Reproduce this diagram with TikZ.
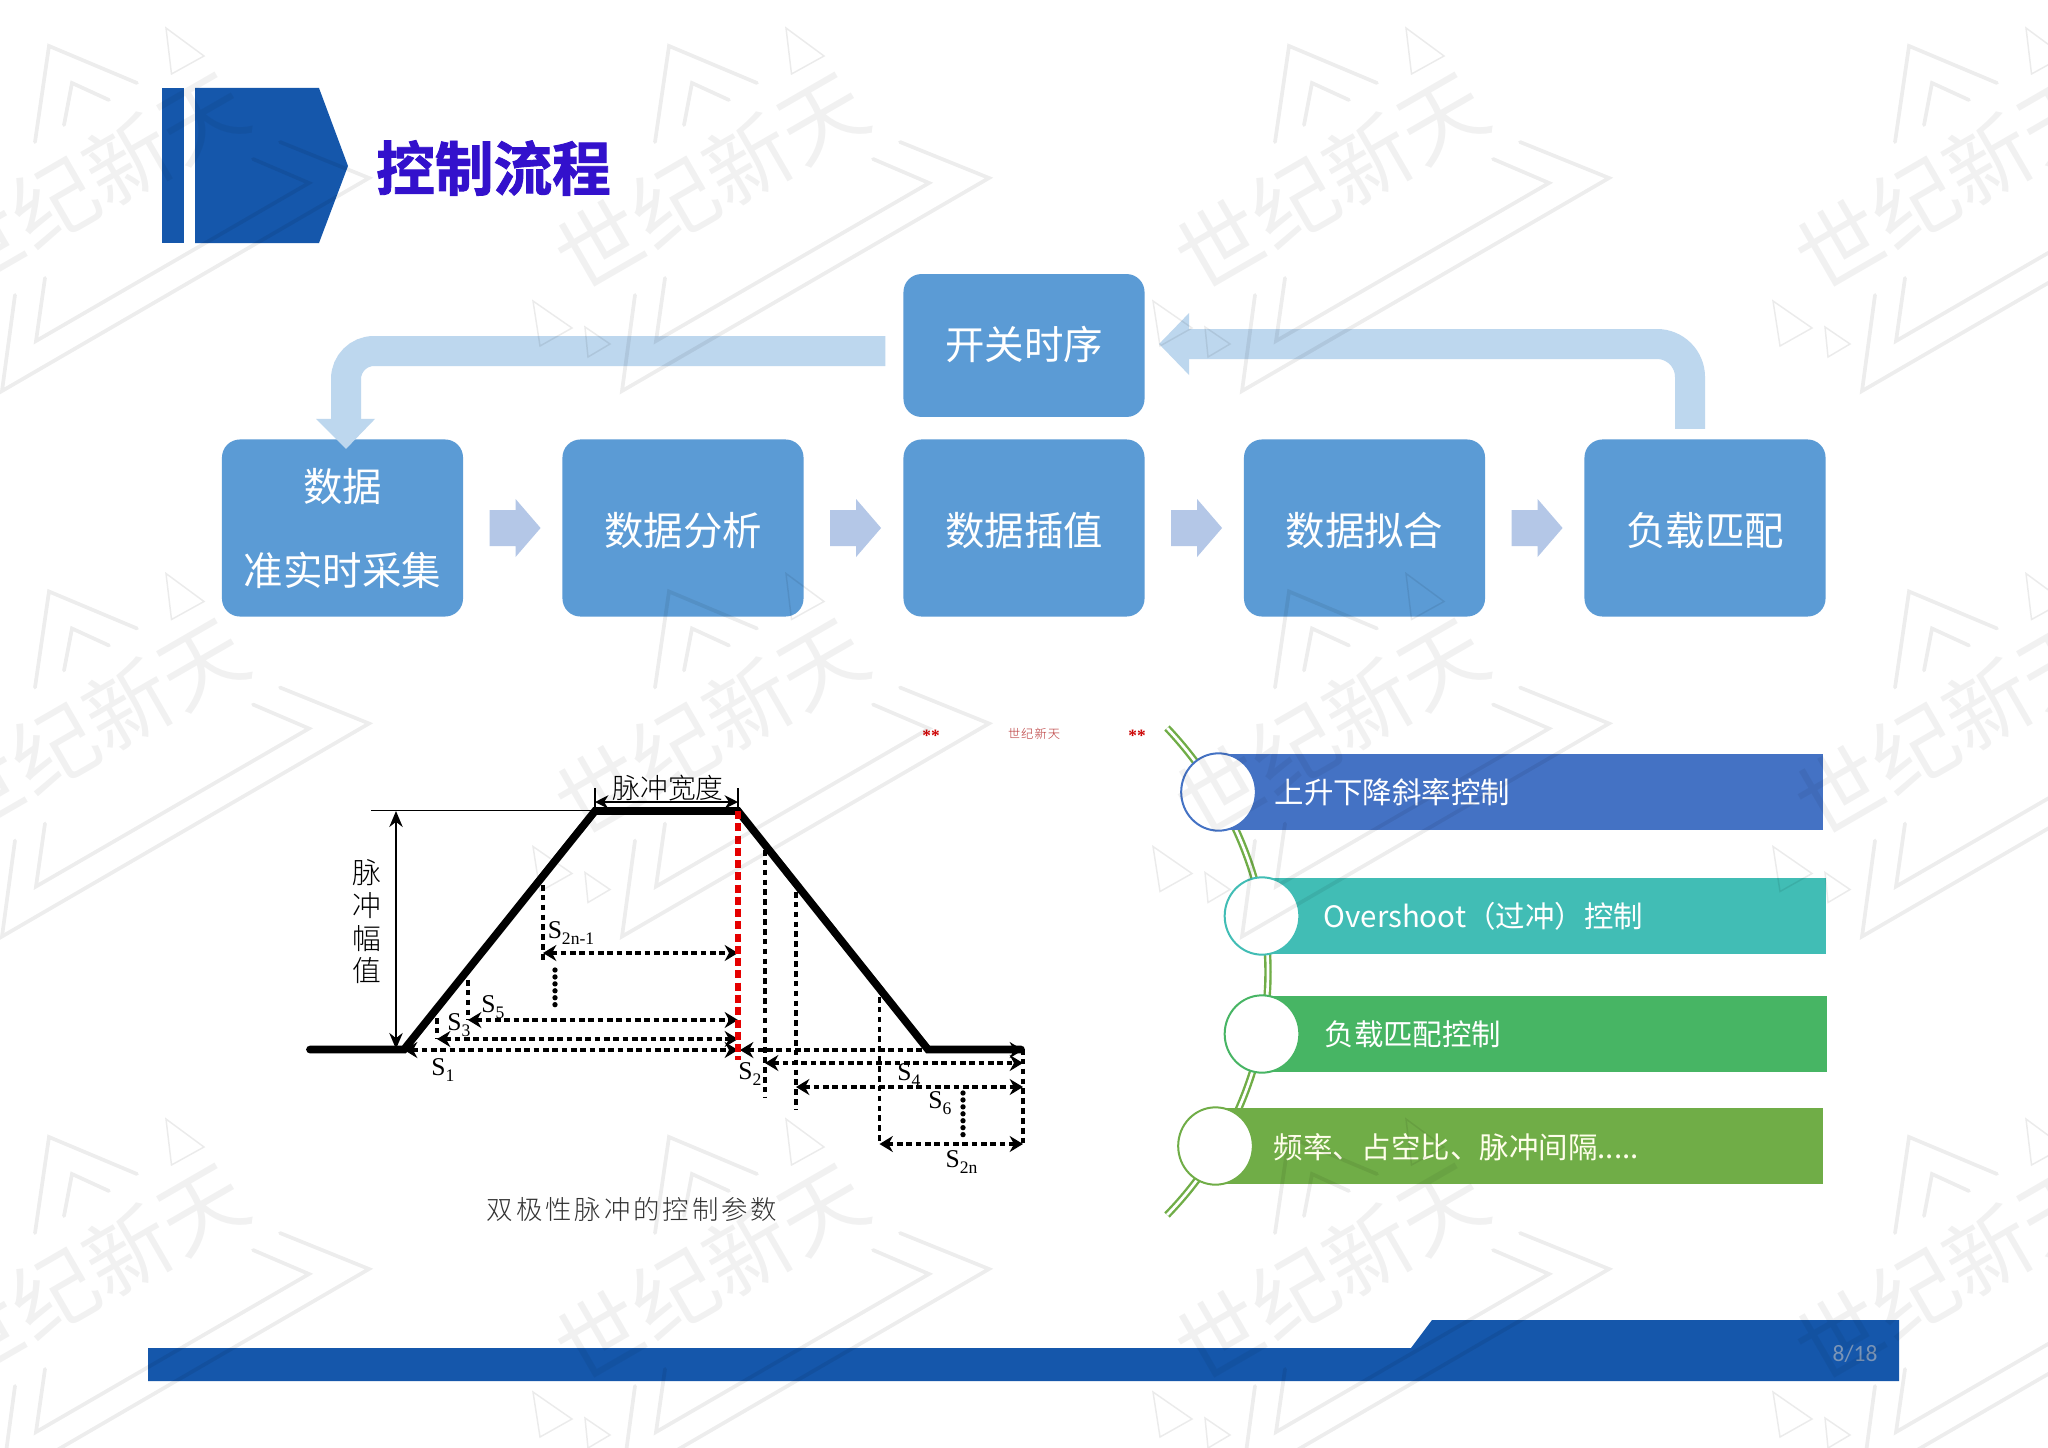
\documentclass[tikz,border=0pt]{standalone}
\usepackage{fontspec}
\usetikzlibrary{arrows.meta,calc,shapes.geometric}
\newfontfamily\cjk{Noto Sans CJK SC}
\newfontfamily\cjkl{Noto Sans CJK SC Light}
\newfontfamily\cjkt[FakeBold=1.5]{Noto Sans CJK SC Bold}
\newfontfamily\cjkc[LetterSpace=11]{Noto Sans CJK SC Light}
\newfontfamily\cjkr[LetterSpace=8]{Noto Sans CJK SC Light}
\newfontfamily\tnr{Liberation Serif}
\newfontfamily\cbr{Carlito}
\definecolor{hdr}{HTML}{1557AB}
\definecolor{ttl}{HTML}{3311CC}
\definecolor{boxc}{HTML}{5B9BD5}
\definecolor{loopc}{HTML}{BDD7EE}
\definecolor{stepc}{HTML}{B4C7E7}
\definecolor{bara}{HTML}{4472C4}
\definecolor{barb}{HTML}{41BDB5}
\definecolor{barc}{HTML}{47B564}
\definecolor{bard}{HTML}{70AD47}
\newcommand\fsz[1]{\fontsize{#1}{#1}\selectfont}
\newcommand\slab[1]{{\tnr\fsz{9.6}S\raisebox{-0.22em}{\fsz{6.6}#1}}}
\newcommand\nudge[2]{\raisebox{#1}[\height][\depth]{#2}}
\tikzset{
  flowbox/.style={fill=boxc,rounded corners=6.75pt,inner sep=0pt,minimum width=90.4pt,minimum height=66.4pt,text=white,font=\cjk\fsz{14.8}},
  topbox/.style={flowbox,minimum height=53.6pt},
  stepfill/.style={fill=stepc},
  loopband/.style={draw=loopc,line width=11.25pt},
  loophead/.style={fill=loopc},
  slabel/.style={inner sep=0pt,text=black},
  dimline/.style={line width=1.15pt,dash pattern=on 2.1pt off 1.4pt,{Stealth[length=5pt,width=6pt]}-{Stealth[length=5pt,width=6pt]}},
  dropline/.style={line width=1.2pt,dash pattern=on 2.1pt off 1.6pt},
  dotline/.style={line width=2pt,line cap=round,dash pattern=on 0pt off 2.6pt},
  barlabel/.style={anchor=west,inner sep=0pt,text=white,font=\cjk\fsz{11.05}},
  ringnode/.style={fill=white,ellipse,minimum width=28pt,minimum height=29pt,inner sep=0pt,line width=0.75pt},
  wmthick/.style={draw=black,opacity=0.07,line width=1.4pt,line cap=round,line join=miter},
  wmthin/.style={draw=black,opacity=0.08,line width=0.55pt,line cap=round},
}
\newcommand\stepblock[1]{\fill[stepfill] ($(#1.east)+(26,-18)$) -- ++(26,0) -- ++(0,-11) -- ++(25,29) -- ++(-25,29) -- ++(0,-11) -- ++(-26,0) -- cycle;}
\begin{document}
\begin{tikzpicture}[x=0.375pt,y=-0.375pt]
\useasboundingbox (0,0) rectangle (2048,1448);
\fill[white] (0,0) rectangle (2048,1448);
% header
\fill[hdr] (162,88) rectangle (184,243);
\fill[hdr] (195,88) -- (319,88) -- (348,166) -- (319,243) -- (195,243) -- cycle;
\node[inner sep=0pt,text=ttl,font=\cjkt\fsz{22}] (title) at (493.5,168) {控制流程};
% flow boxes
\node[topbox] (top) at (1024,345.5) {\nudge{0.5pt}{开关时序}};
\node[flowbox] (b1) at (342.5,528) {};
\node[inner sep=0pt,text=white,font=\cjk\fsz{14.8}] (b1a) at (342.5,487) {数据};
\node[inner sep=0pt,text=white,font=\cjk\fsz{14.8}] (b1b) at (342.5,570) {准实时采集};
\node[flowbox] (b2) at (683,528) {\nudge{-1pt}{数据分析}};
\node[flowbox] (b3) at (1024,528) {\nudge{-1pt}{数据插值}};
\node[flowbox] (b4) at (1364.5,528) {\nudge{-1pt}{数据拟合}};
\node[flowbox] (b5) at (1705,528) {\nudge{-1pt}{负载匹配}};
\stepblock{b1}\stepblock{b2}\stepblock{b3}\stepblock{b4}
% feedback arrows
\coordinate (la) at ($(top.west)+(-17.5,5.5)$);
\coordinate (lb) at ($(b1.north)+(3.5,-20)$);
\draw[loopband,rounded corners=10.5pt] (la) -- (lb |- la) -- (lb);
\fill[loophead] ($(lb)+(-30,0)$) -- ($(lb)+(29,0)$) -- ($(lb)+(0,30)$) -- cycle;
\coordinate (ra) at ($(b5.north)+(-15,-10)$);
\coordinate (rb) at ($(top.east)+(44,-1.5)$);
\draw[loopband,rounded corners=12.4pt] (ra) -- (ra |- rb) -- (rb);
\fill[loophead] ($(rb)+(0,-31)$) -- ($(rb)+(0,31)$) -- ($(rb)+(-30,0)$) -- cycle;
% pulse diagram
\draw[dropline] (437,1018) -- (437,1039);
\draw[dropline] (468,980) -- (468,1020);
\draw[dropline] (543,885) -- (543,962);
\draw[dropline] (765,850) -- (765,1097);
\draw[dropline] (796,892) -- (796,1110);
\draw[dropline] (879.5,997) -- (879.5,1144);
\draw[dropline] (1023,1049) -- (1023,1144);
\draw[dotline] (555,970) -- (555,1010);
\draw[dotline] (963,1093) -- (963,1135);
\draw[line width=0.7pt] (371,810.5) -- (595,810.5);
\draw[line width=0.7pt] (595,788) -- (595,811);
\draw[line width=0.7pt] (738,788) -- (738,811);
\draw[line width=0.9pt,{Stealth[length=6pt,width=5pt]}-{Stealth[length=6pt,width=5pt]}] (396,811) -- (396,1049);
\draw[line width=0.9pt,{Stealth[length=5pt,width=5pt]}-{Stealth[length=5pt,width=5pt]}] (595,802) -- (738,802);
\draw[line width=2.9pt,line cap=round] (310,1049.5) -- (404,1049.5) -- (595,811) -- (738,811) -- (928,1049.5) -- (1021,1049.5);
\draw[dimline] (404,1050) -- (738,1050);
\draw[dimline] (437,1039) -- (738,1039);
\draw[dimline] (468,1020) -- (738,1020);
\draw[dimline] (543,953) -- (738,953);
\draw[dimline] (740,1050) -- (1023,1050);
\draw[dimline] (765,1063) -- (1023,1063);
\draw[dimline] (796,1087) -- (1023,1087);
\draw[dimline] (879.5,1144) -- (1023,1144);
\draw[red!90!black,line width=1.9pt,dash pattern=on 3pt off 1.6pt] (738,811) -- (738,1060);
\node[inner sep=0pt,font=\cjkl\fsz{10.4}] (wid) at (668,788) {脉冲宽度};
\node[inner sep=0pt,font=\cjkl\fsz{10.8}] (amp1) at (367,873) {脉};
\node[inner sep=0pt,font=\cjkl\fsz{10.8}] (amp2) at (367,906) {冲};
\node[inner sep=0pt,font=\cjkl\fsz{10.8}] (amp3) at (367,939) {幅};
\node[inner sep=0pt,font=\cjkl\fsz{10.8}] (amp4) at (367,971) {值};
\node[slabel] (s1) at (443,1070) {\slab{1}};
\node[slabel] (s2) at (750,1074) {\slab{2}};
\node[slabel] (s3) at (459,1025) {\slab{3}};
\node[slabel] (s4) at (909,1075) {\slab{4}};
\node[slabel] (s5) at (493,1007) {\slab{5}};
\node[slabel] (s6) at (940,1103) {\slab{6}};
\node[slabel] (s7) at (571,933) {\slab{2n-1}};
\node[slabel] (s8) at (961.5,1162) {\slab{2n}};
\node[inner sep=0pt,text=black!80,font=\cjkc\fsz{9.9}] (cap) at (632,1209) {双极性脉冲的控制参数};
% red mark
\node[inner sep=0pt,text=red!80!black,font=\tnr\bfseries\fsz{6.5}] (ra1) at (931,736) {**};
\node[inner sep=0pt,text=red!65!black!80,font=\cjkr\fsz{4.6}] (ra2) at (1034,734) {世纪新天};
\node[inner sep=0pt,text=red!80!black,font=\tnr\bfseries\fsz{6.5}] (ra3) at (1137,736) {**};
% spine
\draw[draw=bard,line width=0.9pt,double=white,double distance=1pt] (1167,728) .. controls (1235,800) and (1268,890) .. (1268,972) .. controls (1268,1055) and (1235,1145) .. (1167,1215);
% bars
\fill[bara] (1218,754) rectangle (1823,830);
\fill[barb] (1262,878) rectangle (1825.5,954);
\fill[barc] (1262,996) rectangle (1827,1072);
\fill[bard] (1215,1108) rectangle (1823,1184);
\node[ringnode,draw=bara] (r1) at (1218.5,792) {};
\node[ringnode,draw=barb] (r2) at (1262,916) {};
\node[ringnode,draw=barc] (r3) at (1262,1034) {};
\node[ringnode,draw=bard] (r4) at (1215.5,1146) {};
\node[barlabel] (t1) at (1274,792) {上升下降斜率控制};
\node[barlabel] (t2) at (1323,916) {Overshoot（过冲）控制};
\node[barlabel] (t3) at (1324,1034) {负载匹配控制};
\node[barlabel,text=white!92!yellow] (t4) at (1273,1147) {频率、占空比、脉冲间隔.....};
% footer
\fill[hdr] (148,1348) -- (1411,1348) -- (1432,1320) -- (1899,1320) -- (1899,1381) -- (148,1381) -- cycle;
\node[inner sep=0pt,text=black!25!white!60!hdr,font=\cbr\fsz{8.8}] (page) at (1855,1354) {8/18};
% watermark
\begin{scope}
\clip (0,0) rectangle (2048,1448);
\foreach \i in {-1,0,1,2}{\foreach \j in {0,1,2}{
\begin{scope}[shift={({\i*620},{\j*545.5})}]
\draw[wmthick] (655,142) -- (669,46) -- (757,83);
\draw[wmthick] (684,125) -- (692,83) -- (729,100);
\draw[wmthick] (900,142) -- (989,178) -- (622,391) -- (635,295);
\draw[wmthick] (873,159) -- (929,183) -- (656,341) -- (665,278);
\draw[wmthin] (786,28) -- (824,56) -- (791.5,74) -- cycle;
\draw[wmthin] (533,301) -- (572,328) -- (540,346) -- cycle;
\draw[wmthin] (585,327) -- (610,344) -- (588,357) -- cycle;
\node[opacity=0.055,text=black,inner sep=0pt,rotate=30,font=\cjk\fsz{32}] (wm\i\j) at (711,181) {世纪新天};
\end{scope}
}}
\end{scope}
\end{tikzpicture}
\end{document}
